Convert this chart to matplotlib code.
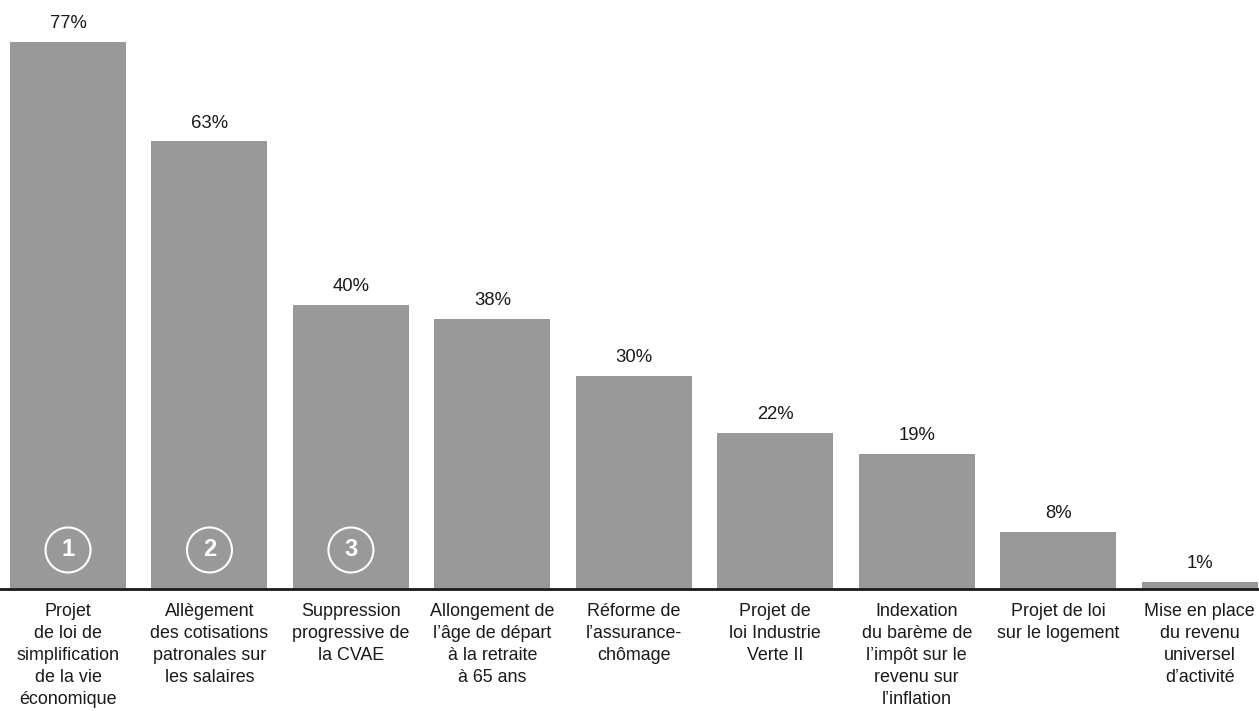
import matplotlib
matplotlib.use("Agg")
import matplotlib.pyplot as plt
from matplotlib.patches import Circle

plt.rcParams['font.family'] = ['Liberation Sans', 'DejaVu Sans']

categories = [
    "Projet\nde loi de\nsimplification\nde la vie\néconomique",
    "Allègement\ndes cotisations\npatronales sur\nles salaires",
    "Suppression\nprogressive de\nla CVAE",
    "Allongement de\nl\u2019âge de départ\nà la retraite\nà 65 ans",
    "Réforme de\nl\u2019assurance-\nchômage",
    "Projet de\nloi Industrie\nVerte II",
    "Indexation\ndu barème de\nl\u2019impôt sur le\nrevenu sur\nl\u2019inflation",
    "Projet de loi\nsur le logement",
    "Mise en place\ndu revenu\nuniversel\nd\u2019activité",
]
values = [77, 63, 40, 38, 30, 22, 19, 8, 1]
ranks = ["1", "2", "3"]

bar_color = "#999999"
text_color = "#1a1a1a"

fig = plt.figure(figsize=(12.59, 7.11), dpi=100)
ax = fig.add_axes([0.0, 0.1716, 1.0, 0.8284])

x = list(range(len(values)))
bars = ax.bar(x, values, width=0.82, color=bar_color, zorder=2)

ax.set_xlim(-0.481, 8.42)
ax.set_ylim(0, 82.9)

for spine in ("top", "right", "left"):
    ax.spines[spine].set_visible(False)
ax.spines["bottom"].set_linewidth(2)
ax.spines["bottom"].set_color(text_color)
ax.spines["bottom"].set_zorder(3)
ax.set_yticks([])
ax.set_xticks([])

# value labels above each bar
for xi, v in zip(x, values):
    ax.annotate(f"{v}%", xy=(xi, v), xytext=(0, 7), textcoords="offset points",
                ha="center", va="bottom", fontsize=13.3, color=text_color)

# category labels under the baseline
for xi, label in zip(x, categories):
    ax.annotate(label, xy=(xi, 0), xytext=(0, -10), textcoords="offset points",
                ha="center", va="top", fontsize=12.9, color=text_color,
                linespacing=1.39)

# numbered circles on the top three bars
for xi, r in zip(x, ranks):
    cx, cy = ax.transData.transform((xi, 0))
    cy = cy + 39
    circ = Circle((cx, cy), 22.5, transform=None, fill=False,
                  edgecolor="white", linewidth=1.5, zorder=4)
    fig.add_artist(circ)
    fig.text(cx / fig.bbox.width, cy / fig.bbox.height, r, ha="center", va="center",
             fontsize=17, fontweight="bold", color="white", zorder=5)

fig.savefig("out.png", dpi=100)
